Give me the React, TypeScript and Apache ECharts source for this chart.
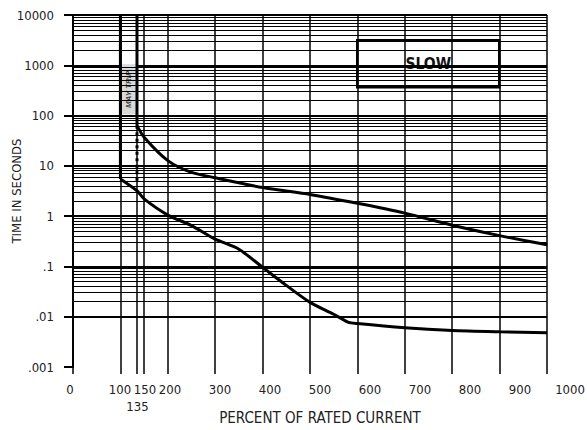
import React, { useEffect, useRef } from 'react';
import * as echarts from 'echarts';

// ---- Data ----
const X_TICKS = [0, 100, 135, 150, 200, 300, 400, 500, 600, 700, 800, 900, 1000];
const X_GRID_LINES = [100, 135, 150, 200, 300, 400, 500, 600, 700, 800, 900, 1000];
const Y_DECADES = [0.001, 0.01, 0.1, 1, 10, 100, 1000, 10000];
const Y_LABELS = ['.001', '.01', '.1', '1', '10', '100', '1000', '10000'];
const MINOR_MULTIPLIERS = [2, 3, 4, 5, 6, 7, 8, 9];

// upper (maximum) curve: vertical at 135% then curve
const UPPER_VERTICAL = [[135, 10000], [135, 63]];
const UPPER_CURVE = [
  [135, 63], [150, 37], [200, 12.7], [250, 7.4], [300, 5.8], [400, 3.7],
  [500, 2.7], [600, 1.8], [700, 1.15], [800, 0.66], [900, 0.41], [1000, 0.27],
];
// lower (minimum) curve: vertical at 100% then curve
const LOWER_VERTICAL = [[100, 10000], [100, 5.5]];
const LOWER_CURVE = [
  [100, 5.5], [135, 3.2], [150, 2.2], [200, 1.05], [250, 0.65], [300, 0.35],
  [350, 0.22], [400, 0.096], [450, 0.042], [500, 0.0193], [550, 0.0112],
  [580, 0.0078], [600, 0.0073], [700, 0.006], [800, 0.0053], [900, 0.005], [1000, 0.0048],
];
const DOTTED = [[135, 63], [135, 4.5]];

const FONT = "'Liberation Sans Narrow', 'DejaVu Sans Condensed', 'Arial Narrow', sans-serif";

export default function App() {
  const ref = useRef<HTMLDivElement>(null);
  useEffect(() => {
    const chart = echarts.init(ref.current!, null, { renderer: 'svg' });
    const minorValues: number[] = [];
    for (const d of Y_DECADES.slice(0, -1)) {
      for (const m of MINOR_MULTIPLIERS) minorValues.push(+(d * m).toPrecision(3));
    }
    const curveStyle = { color: '#000', width: 3 };
    chart.setOption({
      animation: false,
      backgroundColor: '#fff',
      grid: [
        { left: 73, top: 15, width: 474, height: 352, outerBoundsMode: 'none', containLabel: false },
        { left: 70, top: 15, width: 500, height: 352, outerBoundsMode: 'none', containLabel: false },
      ],
      xAxis: [
        {
          type: 'value', gridIndex: 0, min: 0, max: 1000,
          axisLine: { show: false },
          axisTick: { show: true, customValues: X_TICKS, length: 7, lineStyle: { color: '#000', width: 1.5 } },
          axisLabel: { show: false },
          splitLine: { show: false },
        },
        {
          type: 'value', gridIndex: 1, min: 0, max: 1000,
          axisLine: { show: false },
          axisTick: { show: false },
          splitLine: { show: false },
          axisLabel: {
            customValues: X_TICKS,
            formatter: (v: number) => (v === 135 ? '\n135' : String(v)),
            fontFamily: FONT, fontSize: 13, color: '#222', margin: 14, lineHeight: 17,
          },
          name: 'PERCENT OF RATED CURRENT',
          nameLocation: 'middle',
          nameGap: 43,
          nameMoveOverlap: false,
          nameTextStyle: { fontFamily: FONT, fontSize: 15, color: '#222' },
        },
      ],
      yAxis: [
        {
          type: 'log', logBase: 10, gridIndex: 0, min: 0.001, max: 10000, splitNumber: 7,
          axisLine: { show: true, lineStyle: { color: '#000', width: 2 } },
          axisTick: { show: true, length: 9, lineStyle: { color: '#000', width: 2 } },
          minorTick: { show: false },
          axisLabel: {
            formatter: (v: number) => Y_LABELS[Math.round(Math.log10(v)) + 3],
            fontFamily: FONT, fontSize: 13, color: '#222', margin: 19,
          },
          splitLine: { show: true, showMinLine: false, lineStyle: { color: '#000', width: 2 } },
          name: 'TIME IN SECONDS',
          nameLocation: 'middle',
          nameGap: 50,
          nameMoveOverlap: false,
          nameTextStyle: { fontFamily: FONT, fontSize: 13, color: '#222' },
        },
        { type: 'value', gridIndex: 1, show: false, min: 0, max: 1 },
      ],
      series: [
        {
          type: 'line', xAxisIndex: 0, yAxisIndex: 0, data: [], z: 1, silent: true,
          markLine: {
            silent: true, symbol: ['none', 'none'], label: { show: false },
            data: [
              ...minorValues.map((v) => ({ yAxis: v, lineStyle: { color: '#000', width: 1, type: 'solid' } })),
              ...X_GRID_LINES.map((x) => ({ xAxis: x, lineStyle: { color: '#000', width: 1.5, type: 'solid' } })),
            ],
          },
        },
        {
          type: 'line', data: LOWER_VERTICAL, symbol: 'none', lineStyle: curveStyle, z: 3,
          markArea: {
            silent: true,
            itemStyle: { color: '#d9d9d9' },
            label: {
              show: true, position: 'inside', rotate: 90, formatter: 'MAY TRIP',
              fontSize: 8, fontStyle: 'italic', fontWeight: 'bold', color: '#444',
              fontFamily: "'Liberation Sans', sans-serif",
            },
            data: [[{ xAxis: 100, yAxis: 1050 }, { xAxis: 135, yAxis: 105 }]],
          },
        },
        { type: 'line', data: UPPER_VERTICAL, symbol: 'none', lineStyle: curveStyle, z: 3 },
        { type: 'line', data: UPPER_CURVE, symbol: 'none', smooth: 0.25, lineStyle: curveStyle, z: 3 },
        { type: 'line', data: LOWER_CURVE, symbol: 'none', smooth: 0.25, lineStyle: curveStyle, z: 3 },
        { type: 'line', data: DOTTED, symbol: 'none', lineStyle: { color: '#000', width: 3, type: [3, 3.5] }, z: 3 },
      ],
      graphic: [
        {
          type: 'group', left: 356, top: 39, z: 100,
          children: [
            { type: 'rect', shape: { x: 1, y: 1, width: 142, height: 47 }, style: { fill: '#fff', stroke: '#000', lineWidth: 2.5 } },
            {
              type: 'text', x: 72, y: 25,
              style: { text: 'SLOW', fontFamily: FONT, fontSize: 15.5, fontWeight: 'bold', fill: '#111', align: 'center', verticalAlign: 'middle' },
            },
          ],
        },
      ],
    });
    return () => chart.dispose();
  }, []);
  return (
    <div
      ref={ref}
      style={{ position: 'absolute', left: 0, top: 0, width: 587, height: 430, background: '#fff' }}
    />
  );
}
